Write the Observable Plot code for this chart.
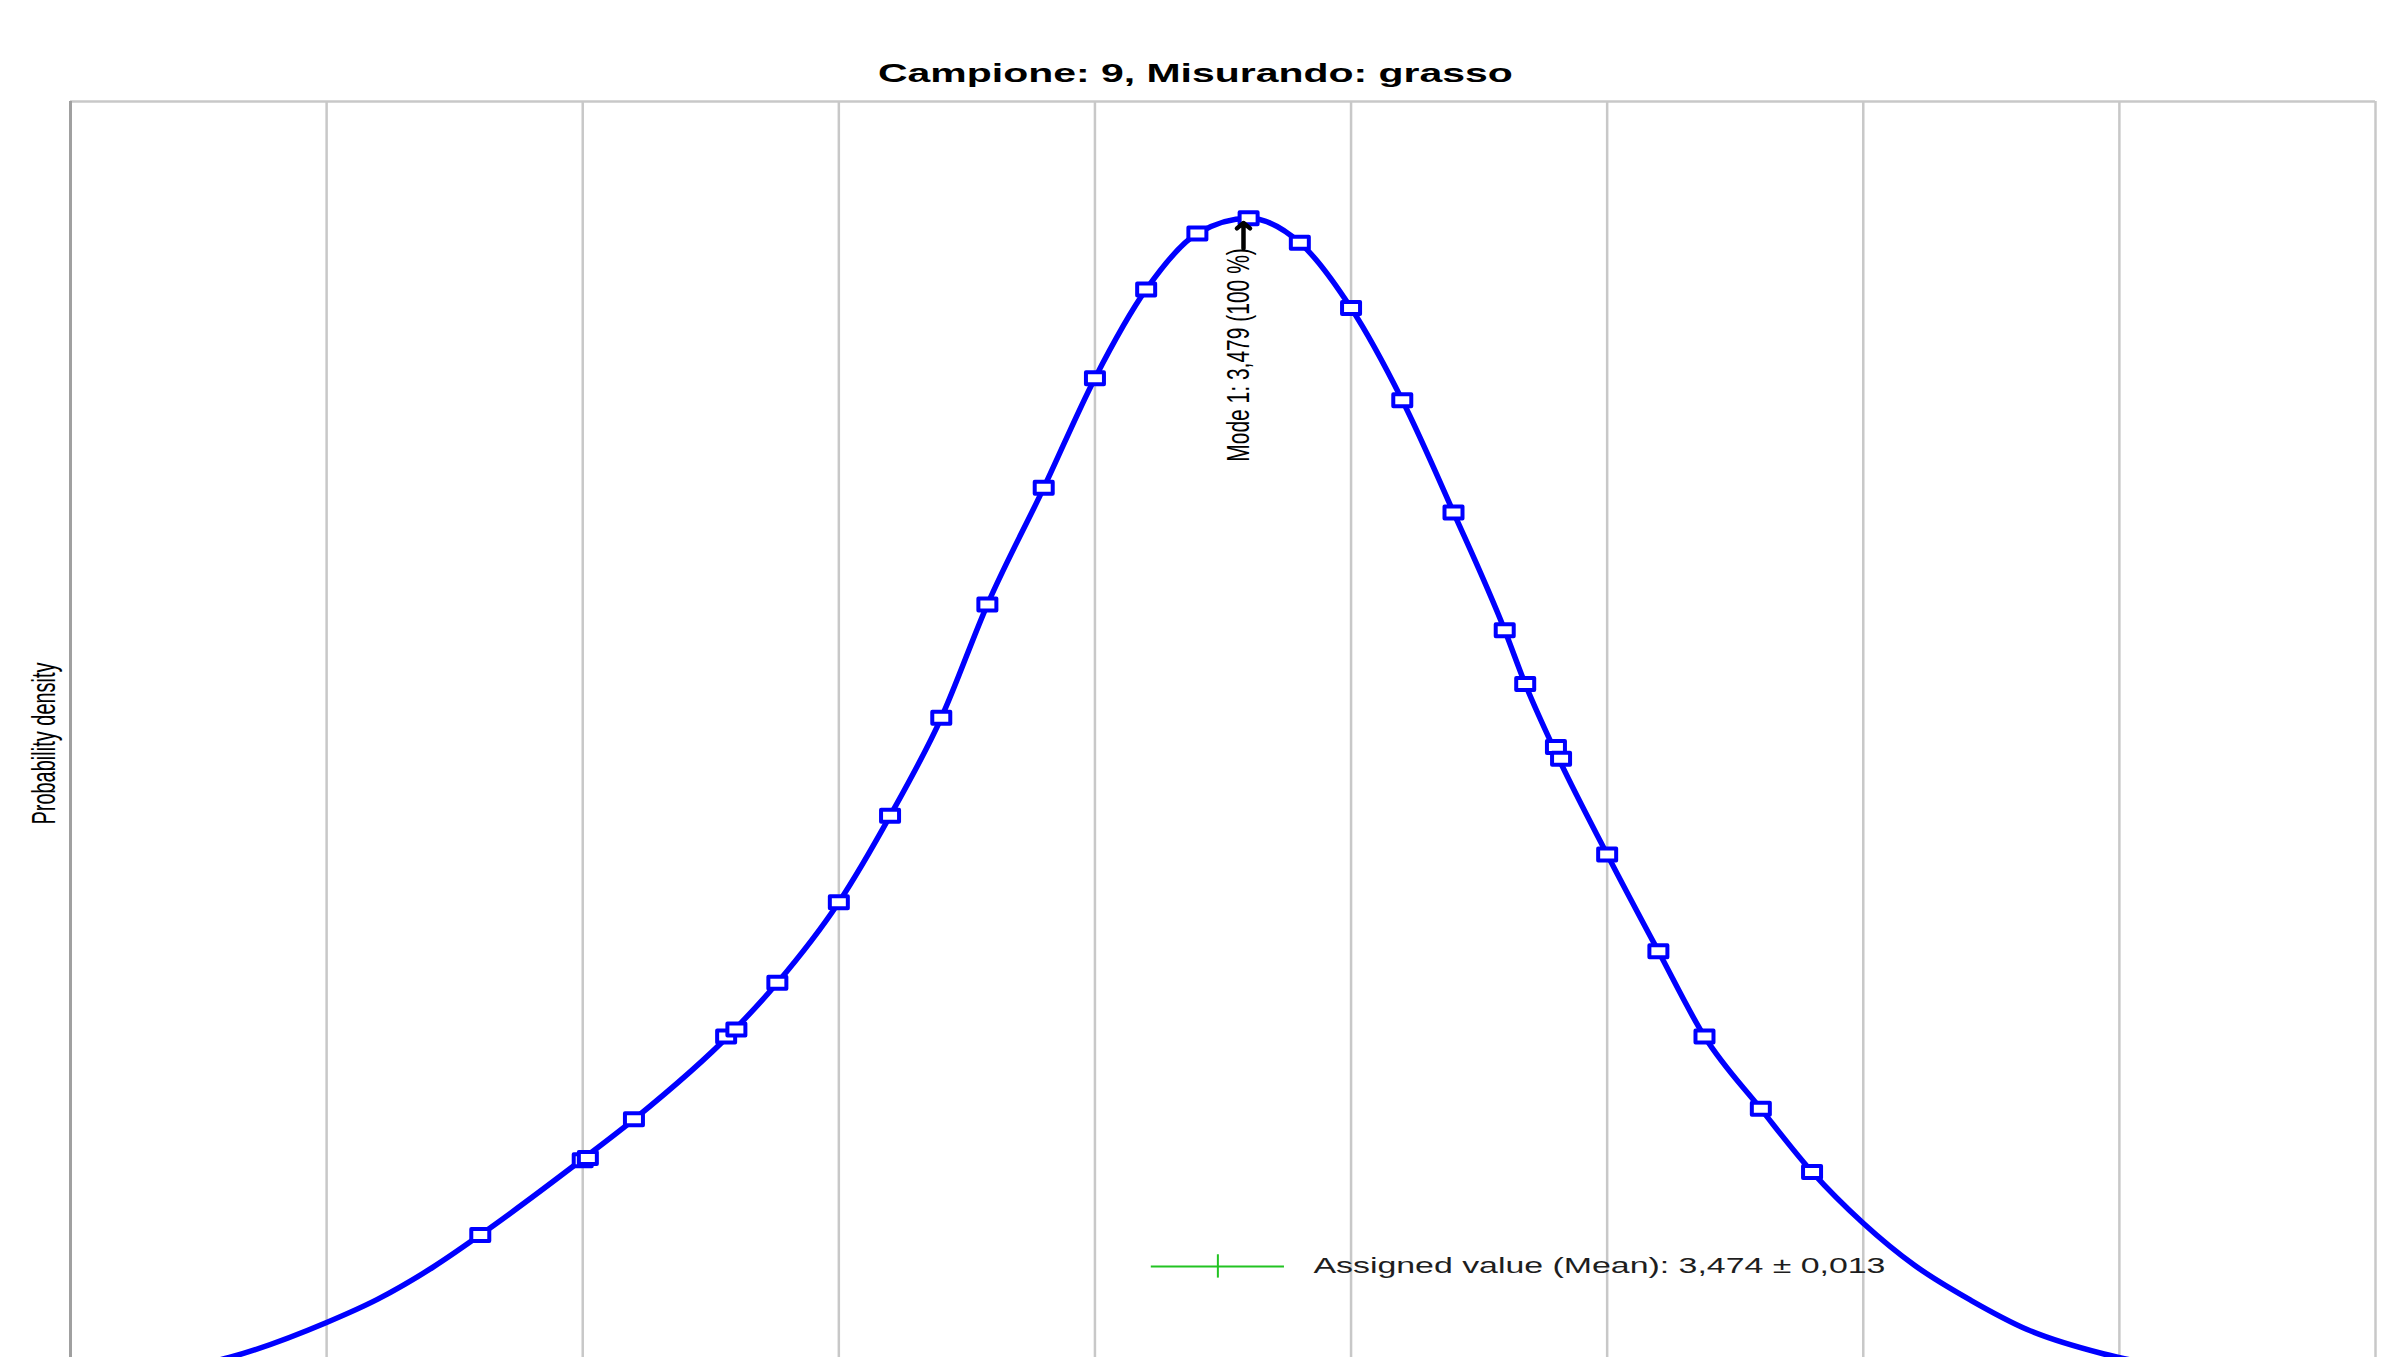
<!DOCTYPE html>
<html>
<head>
<meta charset="utf-8">
<script src="https://cdn.jsdelivr.net/npm/d3@7"></script>
<script src="https://cdn.jsdelivr.net/npm/@observablehq/plot@0.6"></script>
<style>
  html, body { margin: 0; padding: 0; background: #ffffff; overflow: hidden; width: 2392px; height: 1357px; }
  #title { position: relative; width: 2392px; height: 90px; }
  #title span {
    position: absolute; left: 0; top: 58px; width: 2392px; line-height: 30px;
    text-align: center; font: bold 26px "Liberation Sans", Arial, sans-serif; color: #000;
    transform: scaleX(1.575); transform-origin: 1197px 0; white-space: nowrap;
  }
</style>
</head>
<body>
<div id="title"><span>Campione: 9, Misurando: grasso</span></div>
<div id="chart"></div>
<script>
// ---- data ----
const titleText = "Campione: 9, Misurando: grasso";
const yLabel = "Probability density";

// x grid (one line every 0.05)
const xDomain = [3.25, 3.70];
const gridX = [3.30, 3.35, 3.40, 3.45, 3.50, 3.55, 3.60, 3.65, 3.70];

// laboratory results (open squares on the density curve), relative density (mode = 1)
const pointX = [3.330, 3.350, 3.351, 3.360, 3.378, 3.380, 3.388, 3.400, 3.410, 3.420,
                3.429, 3.440, 3.450, 3.460, 3.470, 3.480, 3.490, 3.500, 3.510, 3.520,
                3.530, 3.534, 3.540, 3.541, 3.550, 3.560, 3.569, 3.580, 3.590];
const pointY = [0.129, 0.193, 0.195, 0.228, 0.299, 0.305, 0.345, 0.414, 0.488, 0.572,
                0.669, 0.769, 0.863, 0.939, 0.987, 1.000, 0.979, 0.923, 0.844, 0.748,
                0.647, 0.601, 0.547, 0.537, 0.455, 0.372, 0.299, 0.237, 0.183];

// density curve samples
const curveX = [3.266, 3.281, 3.300, 3.310, 3.321, 3.330, 3.350, 3.360, 3.379, 3.388,
                3.400, 3.410, 3.420, 3.429, 3.440, 3.450, 3.460, 3.470, 3.480, 3.490,
                3.500, 3.510, 3.520, 3.530, 3.534, 3.540, 3.550, 3.560, 3.569, 3.580,
                3.590, 3.600, 3.610, 3.621, 3.632, 3.647, 3.662];
const curveY = [0.011, 0.024, 0.054, 0.074, 0.102, 0.129, 0.194, 0.228, 0.302, 0.345,
                0.414, 0.488, 0.572, 0.669, 0.769, 0.863, 0.939, 0.987, 1.000, 0.979,
                0.923, 0.844, 0.748, 0.647, 0.601, 0.542, 0.455, 0.372, 0.299, 0.237,
                0.183, 0.139, 0.103, 0.073, 0.048, 0.027, 0.014];

// mode annotation
const modeX = 3.479;
const modeY = 1.0;
const modeLabel = "Mode 1: 3,479 (100 %)";
const modeArrowY = [0.974, 0.996];

// assigned value (mean) with uncertainty
const assignedValue = 3.474;
const assignedU = 0.013;
const assignedLevel = 0.102;
const assignedTick = [0.092, 0.112];
const assignedLabel = "Assigned value (Mean): 3,474 \u00b1 0,013";

// ---- build ----
const points = pointX.map((x, i) => ({x, y: pointY[i]}));
const curve = curveX.map((x, i) => ({x, y: curveY[i]}));

const rectSymbol = {
  draw(context) { context.rect(-9, -6, 18, 12); }
};

const font = "'Liberation Sans', Arial, sans-serif";

const chart = Plot.plot({
  width: 2392,
  height: 1335,
  marginLeft: 70,
  marginRight: 17,
  marginTop: 11,
  marginBottom: 40,
  x: {domain: xDomain, axis: null},
  y: {domain: [0, 1.1], axis: null},
  style: {background: "#ffffff", fontFamily: font, overflow: "visible"},
  marks: [
    Plot.ruleX(gridX, {stroke: "#c8c8c8", strokeWidth: 2.5}),
    Plot.ruleY([1.1], {stroke: "#c8c8c8", strokeWidth: 2.5}),
    Plot.ruleX([xDomain[0]], {stroke: "#a0a0a0", strokeWidth: 3}),
    // assigned value marker
    Plot.ruleY([assignedLevel], {x1: assignedValue - assignedU, x2: assignedValue + assignedU, stroke: "#22c322", strokeWidth: 2}),
    Plot.ruleX([assignedValue], {y1: assignedTick[0], y2: assignedTick[1], stroke: "#22c322", strokeWidth: 2}),
    Plot.text([assignedLabel], {x: assignedValue + assignedU, y: assignedLevel, dx: 29, textAnchor: "start",
      fontSize: 22, fill: "#1e1e1e", fontFamily: font}),
    // density curve
    Plot.line(curve, {x: "x", y: "y", stroke: "#0000ff", strokeWidth: 5.5, curve: "monotone-x",
      strokeLinejoin: "round", strokeLinecap: "round"}),
    Plot.dot(points, {x: "x", y: "y", symbol: rectSymbol, stroke: "#0000ff", fill: "#ffffff", strokeWidth: 4,
      strokeLinejoin: "round"}),
    // mode annotation
    Plot.arrow([0], {x1: modeX, x2: modeX, y1: modeArrowY[0], y2: modeArrowY[1], stroke: "#000000",
      strokeWidth: 4.5, headLength: 14, headAngle: 100}),
    Plot.text([modeLabel], {x: modeX, y: modeY, dy: 30, rotate: -90, textAnchor: "end", lineAnchor: "middle",
      fontSize: 21, fill: "#000000", fontFamily: font, dx: -5}),
    // y axis label
    Plot.text([yLabel], {frameAnchor: "left", dx: -26, rotate: -90, textAnchor: "middle", lineAnchor: "middle",
      fontSize: 20, fill: "#000000", fontFamily: font})
  ]
});

// horizontal stretching of the lettering, as in the reference image
const stretch = new Map([[assignedLabel, 1.54], [modeLabel, 1.5], [yLabel, 1.7]]);
d3.select(chart).selectAll("text").each(function() {
  const s = stretch.get(this.textContent);
  if (!s) return;
  const t = this.getAttribute("transform");
  if (t && /translate\(/.test(t)) {
    this.setAttribute("transform", t.replace(/(translate\([^)]*\))/, `$1 scale(${s},1)`));
  } else {
    const x = +(this.getAttribute("x") || 0), y = +(this.getAttribute("y") || 0);
    this.removeAttribute("x"); this.removeAttribute("y");
    this.setAttribute("transform", `translate(${x},${y}) scale(${s},1)` + (t ? " " + t : ""));
  }
});

document.getElementById("chart").appendChild(chart);
</script>
</body>
</html>
